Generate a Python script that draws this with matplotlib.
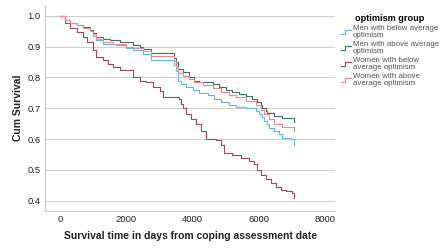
import matplotlib.pyplot as plt
from matplotlib.legend_handler import HandlerBase
from matplotlib.lines import Line2D

plt.rcParams['font.family'] = ['Liberation Sans', 'DejaVu Sans']

groups = ['Men with below average\noptimism', 'Men with above average\noptimism',
          'Women with below\naverage optimism', 'Women with above\naverage optimism']
colors = ['#5db8e6', '#416e64', '#a34561', '#f08a8a']

men_below_t = [0, 150, 300, 500, 700, 900, 1000, 1100, 1300, 1700, 2000, 2200, 2500, 2750, 3450, 3500,
               3550, 3650, 3800, 4000, 4200, 4450, 4650, 4850, 5100, 5300, 5600, 5900, 6000, 6100, 6150,
               6250, 6300, 6450, 6600, 6700, 6950, 7050]
men_below_s = [1.0, 0.985, 0.975, 0.97, 0.96, 0.95, 0.935, 0.92, 0.91, 0.905, 0.895, 0.888, 0.875, 0.856,
               0.84, 0.82, 0.79, 0.78, 0.77, 0.758, 0.75, 0.742, 0.73, 0.72, 0.71, 0.704, 0.70, 0.69,
               0.68, 0.67, 0.66, 0.648, 0.635, 0.625, 0.615, 0.605, 0.6, 0.58]

men_above_t = [0, 150, 300, 500, 700, 900, 1000, 1100, 1300, 1500, 1800, 2200, 2400, 2500, 2750, 3450,
               3500, 3550, 3700, 3900, 4050, 4200, 4600, 4800, 5000, 5200, 5400, 5600, 5800, 5950, 6050,
               6100, 6200, 6250, 6450, 6700, 7050]
men_above_s = [1.0, 0.985, 0.975, 0.97, 0.965, 0.955, 0.945, 0.93, 0.925, 0.92, 0.915, 0.905, 0.9,
               0.892, 0.88, 0.862, 0.85, 0.828, 0.818, 0.80, 0.79, 0.785, 0.78, 0.77, 0.76, 0.752, 0.745,
               0.74, 0.73, 0.72, 0.71, 0.70, 0.69, 0.685, 0.676, 0.668, 0.655]

women_below_t = [0, 150, 300, 500, 700, 800, 1000, 1100, 1300, 1450, 1600, 1800, 2200, 2400, 2600, 2800,
                 3000, 3100, 3600, 3650, 3700, 3800, 3950, 4100, 4250, 4400, 4700, 4850, 4950, 5200, 5450,
                 5700, 5850, 5950, 6050, 6200, 6350, 6500, 6650, 6800, 7000, 7050]
women_below_s = [1.0, 0.975, 0.96, 0.948, 0.93, 0.915, 0.888, 0.867, 0.855, 0.845, 0.834, 0.823, 0.80,
                 0.79, 0.785, 0.77, 0.755, 0.738, 0.73, 0.715, 0.70, 0.68, 0.665, 0.65, 0.625, 0.60, 0.598,
                 0.58, 0.555, 0.548, 0.54, 0.53, 0.52, 0.50, 0.485, 0.47, 0.457, 0.445, 0.436, 0.43,
                 0.425, 0.41]

women_above_t = [0, 150, 300, 500, 700, 900, 1000, 1100, 1300, 1600, 2000, 2200, 2500, 2750, 3450, 3500,
                 3550, 3700, 3900, 4050, 4300, 4600, 4850, 5100, 5300, 5600, 5900, 6050, 6150, 6300,
                 6450, 6700, 7050]
women_above_s = [1.0, 0.985, 0.975, 0.97, 0.96, 0.95, 0.94, 0.925, 0.915, 0.91, 0.9, 0.895, 0.885,
                 0.868, 0.852, 0.835, 0.815, 0.805, 0.795, 0.785, 0.775, 0.765, 0.752, 0.742, 0.735,
                 0.725, 0.71, 0.695, 0.68, 0.665, 0.65, 0.64, 0.625]

series = [(men_below_t, men_below_s), (men_above_t, men_above_s),
          (women_below_t, women_below_s), (women_above_t, women_above_s)]


class StepHandler(HandlerBase):
    # little step glyph like the SPSS legend
    def create_artists(self, legend, orig_handle, xd, yd, w, h, fontsize, trans):
        xs = [xd, xd + w * 0.45, xd + w * 0.45, xd + w]
        ys = [yd + h * 0.15, yd + h * 0.15, yd + h * 0.85, yd + h * 0.85]
        ln = Line2D(xs, ys, color=orig_handle.get_color(), lw=0.8, transform=trans)
        return [ln]


fig = plt.figure(figsize=(4.41, 2.49), dpi=100)
ax = fig.add_axes([0.102, 0.153, 0.658, 0.827])

handles = []
for (t, s), c, g in zip(series, colors, groups):
    h, = ax.step(t, s, where='post', color=c, lw=0.8, label=g)
    handles.append(h)

ax.set_xlim(-452, 8295)
ax.set_ylim(0.367, 1.035)
ax.set_xticks([0, 2000, 4000, 6000, 8000])
ax.set_yticks([0.4, 0.5, 0.6, 0.7, 0.8, 0.9, 1.0])
ax.set_yticklabels(['0.4', '0.5', '0.6', '0.7', '0.8', '0.9', '1.0'])
ax.yaxis.grid(True, color='#d0d0d0', lw=0.8)
ax.set_axisbelow(True)
for sp in ['top', 'right']:
    ax.spines[sp].set_visible(False)
for sp in ['left', 'bottom']:
    ax.spines[sp].set_color('#c8c8c8')
    ax.spines[sp].set_linewidth(0.8)
ax.tick_params(length=0, labelsize=6.8, labelcolor='#222222', pad=3)

ax.set_xlabel('Survival time in days from coping assessment date', fontsize=7.5,
              fontweight='bold', color='#222222', labelpad=5)
ax.set_ylabel('Cum Survival', fontsize=7.5, fontweight='bold', color='#222222', labelpad=3)

leg = ax.legend(handles=handles, labels=groups, title='optimism group',
                handler_map={Line2D: StepHandler()},
                loc='upper left', bbox_to_anchor=(1.0, 0.985), frameon=False,
                fontsize=5.7, title_fontproperties={'weight': 'bold', 'size': 6.6},
                handlelength=1.3, handletextpad=0.2, labelspacing=0.3, borderaxespad=0.3)
for txt in leg.get_texts():
    txt.set_color('#555555')
    txt.set_linespacing(0.95)

fig.savefig('out.png', dpi=100)
